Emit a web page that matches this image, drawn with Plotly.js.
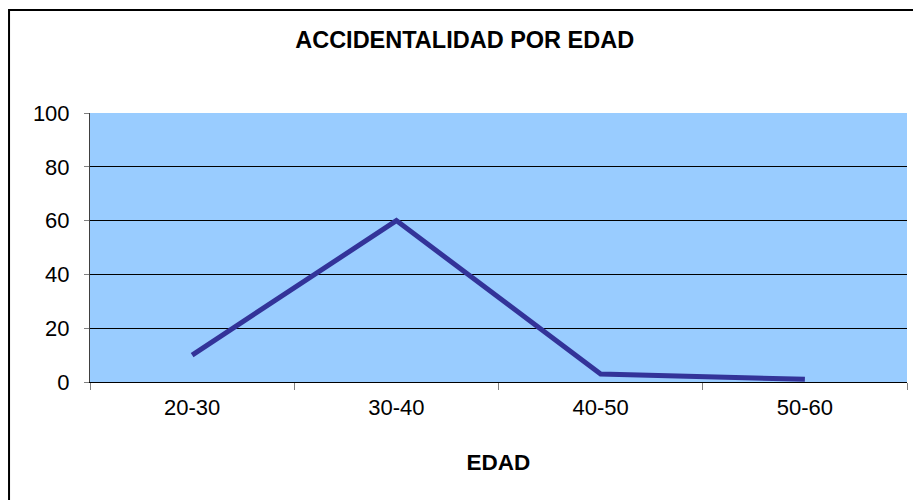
<!DOCTYPE html>
<html>
<head>
<meta charset="utf-8">
<script src="https://cdn.plot.ly/plotly-3.0.1.min.js"></script>
<style>html,body{margin:0;padding:0;background:#fff;}#chart{width:913px;height:500px;}</style>
</head>
<body>
<div id="chart"></div>
<script>
const categories = ["20-30", "30-40", "40-50", "50-60"];
const values = [10, 60, 3, 1];
const yTicks = [0, 20, 40, 60, 80, 100];
const chartTitle = "ACCIDENTALIDAD POR EDAD";
const xTitle = "EDAD";

const font = "Arial, 'Liberation Sans', sans-serif";

Plotly.newPlot("chart", [{
  type: "scatter",
  mode: "lines",
  x: categories,
  y: values,
  line: {color: "#333399", width: 5},
  hoverinfo: "skip"
}], {
  width: 913,
  height: 500,
  margin: {l: 90, r: 6, t: 113, b: 118},
  paper_bgcolor: "#ffffff",
  plot_bgcolor: "#99CCFF",
  showlegend: false,
  font: {family: font, color: "#000", size: 22},
  title: {
    text: "<b>" + chartTitle + "</b>",
    font: {family: font, size: 23.5, color: "#000"},
    x: 0.509, xanchor: "center",
    y: 0.92, yanchor: "middle"
  },
  xaxis: {
    type: "category",
    range: [-0.5, 3.5],
    tickson: "boundaries",
    ticks: "outside",
    ticklen: 7,
    tickcolor: "#808080",
    tickwidth: 1,
    showgrid: false,
    showline: true,
    linecolor: "#000",
    linewidth: 1,
    zeroline: false,
    ticklabelstandoff: 6,
    tickfont: {family: font, size: 22, color: "#000"},
    title: {text: "<b>" + xTitle + "</b>", font: {family: font, size: 22.5, color: "#000"}, standoff: 34}
  },
  yaxis: {
    range: [0, 100],
    tickvals: yTicks,
    ticks: "outside",
    ticklen: 5,
    tickcolor: "#808080",
    showgrid: true,
    gridcolor: "#000",
    gridwidth: 1,
    showline: true,
    linecolor: "#404040",
    linewidth: 1,
    zeroline: false,
    ticklabelstandoff: 10,
    tickfont: {family: font, size: 22, color: "#000"}
  },
  shapes: [{
    type: "rect", xref: "paper", yref: "paper",
    x0: -0.0991, x1: 1.2, y0: -1, y1: 1.3829,
    line: {color: "#000", width: 2},
    fillcolor: "rgba(0,0,0,0)"
  }]
}, {displayModeBar: false, staticPlot: true});
</script>
</body>
</html>
